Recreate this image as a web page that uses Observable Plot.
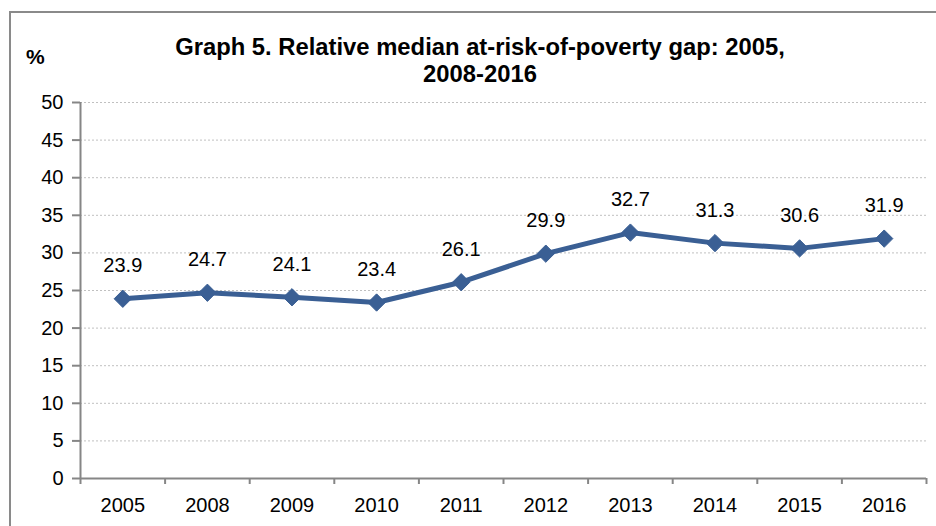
<!DOCTYPE html>
<html>
<head>
<meta charset="utf-8">
<script src="https://cdn.jsdelivr.net/npm/d3@7"></script>
<script src="https://cdn.jsdelivr.net/npm/@observablehq/plot@0.6"></script>
<style>
  body { margin: 0; background: #fff; font-family: "Liberation Sans", Arial, sans-serif; }
  #wrap { position: relative; width: 936px; height: 526px; overflow: hidden; }
  #frame { position: absolute; left: 9px; top: 11px; width: 940px; height: 540px; border: 2px solid #8a8a8a; box-sizing: border-box; }
  #title { position: absolute; left: 0; width: 960px; top: 33px; text-align: center; font-weight: bold; font-size: 23.8px; line-height: 27px; color: #000; }
  #unit { position: absolute; left: 26px; top: 45px; font-weight: bold; font-size: 21px; color: #000; }
  #chart { position: absolute; left: 0; top: 0; }
</style>
</head>
<body>
<div id="wrap">
  <div id="frame"></div>
  <div id="chart"></div>
  <div id="title">Graph 5. Relative median at-risk-of-poverty gap: 2005,<br>2008-2016</div>
  <div id="unit">%</div>
</div>
<script>
const years = ["2005", "2008", "2009", "2010", "2011", "2012", "2013", "2014", "2015", "2016"];
const values = [23.9, 24.7, 24.1, 23.4, 26.1, 29.9, 32.7, 31.3, 30.6, 31.9];
const yTicks = [0, 5, 10, 15, 20, 25, 30, 35, 40, 45, 50];

const data = years.map((y, i) => ({i, year: y, value: values[i]}));
const centers = years.map((_, i) => i);
const bounds = d3.range(years.length + 1).map(k => k - 0.5);

const lineColor = "#3a5f94";
const axisColor = "#868686";

const chart = Plot.plot({
  width: 936,
  height: 526,
  marginTop: 102,
  marginBottom: 48,
  marginLeft: 80,
  marginRight: 10,
  style: {fontFamily: "Liberation Sans, Arial, sans-serif", background: "transparent"},
  x: {type: "linear", domain: [-0.5, years.length - 0.5], axis: null},
  y: {domain: [0, 50], axis: null},
  marks: [
    Plot.gridY(yTicks, {stroke: "#c0c0c0", strokeOpacity: 1, strokeDasharray: "2,2", strokeWidth: 1}),
    Plot.axisY(yTicks, {tickSize: 8, tickPadding: 9, stroke: axisColor, strokeWidth: 2, fontSize: 20, fill: "#000", label: null}),
    Plot.axisX(bounds, {tickSize: 6, tickFormat: () => "", stroke: axisColor, strokeWidth: 2, label: null}),
    Plot.axisX(centers, {tickSize: 0, tickPadding: 19, tickFormat: i => years[i], fontSize: 20, fill: "#000", label: null}),
    Plot.ruleX([-0.5], {stroke: axisColor, strokeWidth: 2}),
    Plot.ruleY([0], {stroke: axisColor, strokeWidth: 2}),
    Plot.line(data, {x: "i", y: "value", stroke: lineColor, strokeWidth: 5}),
    Plot.dot(data, {x: "i", y: "value", symbol: "diamond2", r: 7.8, fill: lineColor, stroke: lineColor, strokeWidth: 1}),
    Plot.text(data, {x: "i", y: "value", text: d => d.value.toFixed(1), dy: -33, fontSize: 20, fill: "#000"})
  ]
});
document.getElementById("chart").appendChild(chart);
</script>
</body>
</html>
